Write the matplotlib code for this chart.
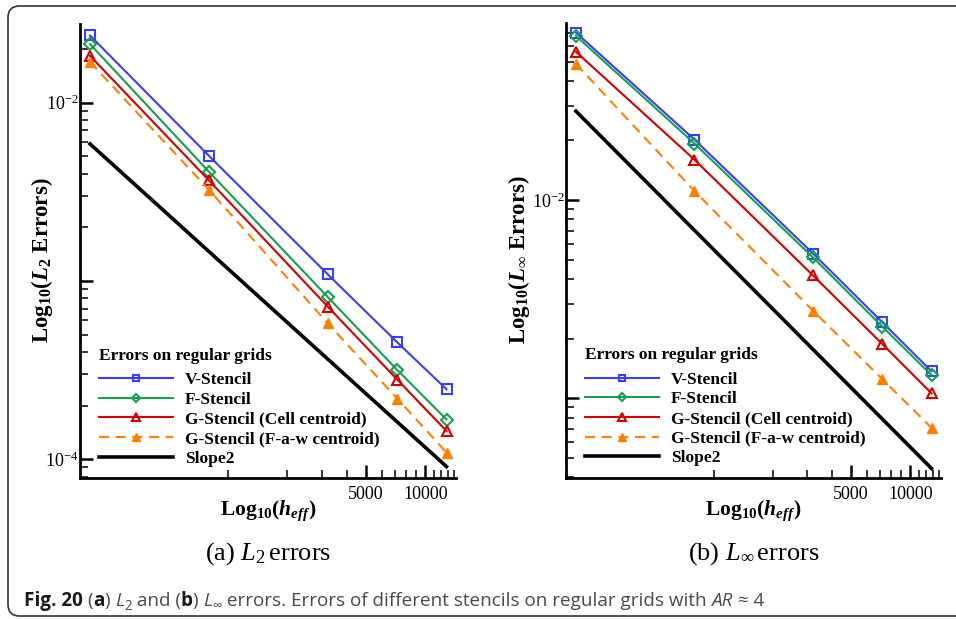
import numpy as np
import matplotlib
matplotlib.use("Agg")
from matplotlib import pyplot as plt
from matplotlib.ticker import FixedLocator, FuncFormatter, NullFormatter
from matplotlib.patches import FancyBboxPatch

plt.rcParams['mathtext.fontset'] = 'custom'
plt.rcParams['mathtext.rm'] = 'Liberation Serif'
plt.rcParams['mathtext.it'] = 'Liberation Serif:italic'
plt.rcParams['mathtext.bf'] = 'Liberation Serif:bold'
plt.rcParams['mathtext.bfit'] = 'Liberation Serif:bold:italic'

# data --------------------------------------------------------------------
h_eff = [200, 800, 3200, 7200, 12800]

l2_v = [2.38e-2, 5.04e-3, 1.09e-3, 4.53e-4, 2.47e-4]
l2_f = [2.13e-2, 4.10e-3, 8.13e-4, 3.17e-4, 1.67e-4]
l2_gc = [1.83e-2, 3.67e-3, 7.18e-4, 2.80e-4, 1.44e-4]
l2_gfaw = [1.69e-2, 3.25e-3, 5.79e-4, 2.19e-4, 1.09e-4]
l2_slope_x = [200, 12800]
l2_slope = [5.87e-3, 9.1e-5]

linf_v = [7.00e-2, 2.02e-2, 5.38e-3, 2.42e-3, 1.37e-3]
linf_f = [6.74e-2, 1.93e-2, 5.14e-3, 2.30e-3, 1.31e-3]
linf_gc = [5.60e-2, 1.60e-2, 4.17e-3, 1.88e-3, 1.06e-3]
linf_gfaw = [4.87e-2, 1.11e-2, 2.77e-3, 1.25e-3, 7.1e-4]
linf_slope_x = [200, 12800]
linf_slope = [2.81e-2, 4.43e-4]

series_labels = ['V-Stencil', 'F-Stencil', 'G-Stencil (Cell centroid)',
                 'G-Stencil (F-a-w centroid)', 'Slope2']
legend_title = 'Errors on regular grids'

BLUE = '#3c3cff'
GREEN = '#13a14f'
RED = '#d40000'
ORANGE = '#ff8000'
SERIF = 'Liberation Serif'

fig = plt.figure(figsize=(9.56, 6.19), dpi=100)
W, H = 956.0, 619.0

def fx(px):
    return px / W

def fy(py):
    return 1 - py / H

# frame round the whole figure
frame = FancyBboxPatch((fx(8), fy(616)), fx(1000), fy(6) - fy(616),
                       boxstyle="round,pad=0,rounding_size=0.012",
                       transform=fig.transFigure, fill=False,
                       ec='#333333', lw=1.2, mutation_aspect=W / H)
fig.patches.append(frame)


def sci(e):
    return r'$\mathrm{10}^{\mathrm{-%d}}$' % (-e)


def panel(rect, ydata, slope_x, slope_y, ylim, ylabels, ylab, ylab_x, sub):
    ax = fig.add_axes(rect)
    v, f, gc, gfaw = ydata
    ax.plot(h_eff, v, '-s', color=BLUE, lw=1.5, ms=6.8, mfc='none', mew=1.5,
            label=series_labels[0])
    ax.plot(h_eff, f, '-D', color=GREEN, lw=1.5, ms=6.0, mfc='none', mew=1.5,
            label=series_labels[1])
    ax.plot(h_eff, gc, '-^', color=RED, lw=1.5, ms=7.5, mfc='none', mew=1.5,
            label=series_labels[2])
    ax.plot(h_eff, gfaw, '--^', color=ORANGE, lw=1.5, ms=7.5, mew=1.0,
            dashes=(4.8, 3.2), label=series_labels[3])
    ax.plot(slope_x, slope_y, '-', color='black', lw=2.6,
            label=series_labels[4])

    ax.set_xscale('log')
    ax.set_yscale('log')
    ax.set_xlim(178, 14300)
    ax.set_ylim(*ylim)
    for s in ['top', 'right']:
        ax.spines[s].set_visible(False)
    for s in ['left', 'bottom']:
        ax.spines[s].set_linewidth(2.0)

    ax.xaxis.set_major_locator(FixedLocator([5000, 10000]))
    ax.xaxis.set_major_formatter(FuncFormatter(lambda x, p: '%d' % x))
    ax.xaxis.set_minor_locator(FixedLocator(
        [1000, 2000, 3000, 4000, 6000, 7000, 8000, 9000,
         11000, 12000, 13000, 14000]))
    ax.xaxis.set_minor_formatter(NullFormatter())

    ax.yaxis.set_major_locator(FixedLocator([1e-4, 1e-3, 1e-2, 1e-1]))
    ax.yaxis.set_major_formatter(FuncFormatter(
        lambda y, p: ylabels.get(int(round(np.log10(y))), '')))
    minors = [m * 10.0 ** e for e in range(-5, 0) for m in range(2, 10)]
    ax.yaxis.set_minor_locator(FixedLocator(minors))
    ax.yaxis.set_minor_formatter(NullFormatter())

    ax.tick_params(which='major', direction='in', length=9.5, width=1.8,
                   labelsize=13, labelfontfamily=SERIF)
    ax.tick_params(which='minor', direction='in', length=6, width=1.1)
    ax.tick_params(axis='y', which='major', pad=1)
    ax.tick_params(axis='x', which='major', pad=6)

    ax.set_xlabel(r'Log$_{\mathbf{10}}$($\mathbfit{h}_{\mathbfit{eff}}$)',
                  family=SERIF, fontweight='bold', fontsize=15.5)
    ax.xaxis.set_label_coords(0.5, -0.045)
    ax.set_ylabel(ylab, family=SERIF, fontweight='bold', fontsize=16.5)
    ax.yaxis.set_label_coords(ylab_x, 0.48)

    leg = ax.legend(loc='upper left', bbox_to_anchor=(0.05, 0.287),
                    frameon=False, title=legend_title,
                    prop={'family': SERIF, 'weight': 'bold', 'size': 12.5},
                    title_fontproperties={'family': SERIF, 'weight': 'bold',
                                          'size': 12.5},
                    alignment='left', handlelength=4.26, handletextpad=0.69,
                    labelspacing=0.2, markerscale=0.7, borderpad=0,
                    borderaxespad=0)
    leg._legend_box.sep = 6

    cx = rect[0] + rect[2] / 2
    fig.text(cx, fy(560), sub, family=SERIF, fontsize=19, ha='center',
             va='baseline')
    return ax


ax1 = panel([fx(80), fy(478), fx(376), fy(24) - fy(478)],
            [l2_v, l2_f, l2_gc, l2_gfaw], l2_slope_x, l2_slope,
            (7.85e-5, 2.76e-2),
            {-2: sci(-2), -4: sci(-4)},
            r'Log$_{\mathbf{10}}$($\mathbfit{L}_{\mathbf{2}}$ Errors)', -0.066,
            r'(a) $\mathit{L}_{2}\,$errors')
ax2 = panel([fx(566), fy(477.7), fx(375), fy(23.3) - fy(477.7)],
            [linf_v, linf_f, linf_gc, linf_gfaw], linf_slope_x, linf_slope,
            (3.98e-4, 7.8e-2),
            {-2: sci(-2)},
            r'Log$_{\mathbf{10}}$($\mathbfit{L}_{\mathbf{\infty}}$ Errors)', -0.09,
            r'(b) $\mathit{L}_{\infty}\,$errors')

# caption ---------------------------------------------------------------
CAP = ['Open Sans', 'DejaVu Sans']
GRAY = '#4a4a4a'
caption_runs = [
    ('Fig. 20 ', dict(weight='bold', color='#1a1a1a')),
    ('(', {}), ('a', dict(weight='bold', color='#1a1a1a')), (') ', {}),
    ('L', dict(style='italic')), ('2', dict(sub=True)), (' and (', {}),
    ('b', dict(weight='bold', color='#1a1a1a')), (') ', {}),
    ('L', dict(style='italic')), ('\u221e', dict(sub=True)),
    (' errors. Errors of different stencils on regular grids with ', {}),
    ('AR', dict(style='italic')), (' \u2248 4', {}),
]

renderer = fig.canvas.get_renderer()
x = fx(24)
base = fy(606)
size = 13.55
for txt, kw in caption_runs:
    kw = dict(kw)
    sub = kw.pop('sub', False)
    fs = size * 0.72 if sub else size
    y = base - (4 / H if sub else 0)
    props = dict(family=CAP, fontsize=fs, color=kw.pop('color', GRAY), **kw)
    t = fig.text(x, y, txt, va='baseline', ha='left', **props)
    probe = fig.text(0, 0, txt + '|', **props)
    bar = fig.text(0, 0, '|', **props)
    w = (probe.get_window_extent(renderer).width
         - bar.get_window_extent(renderer).width)
    probe.remove()
    bar.remove()
    x += w / W

fig.savefig('out.png', dpi=100)
